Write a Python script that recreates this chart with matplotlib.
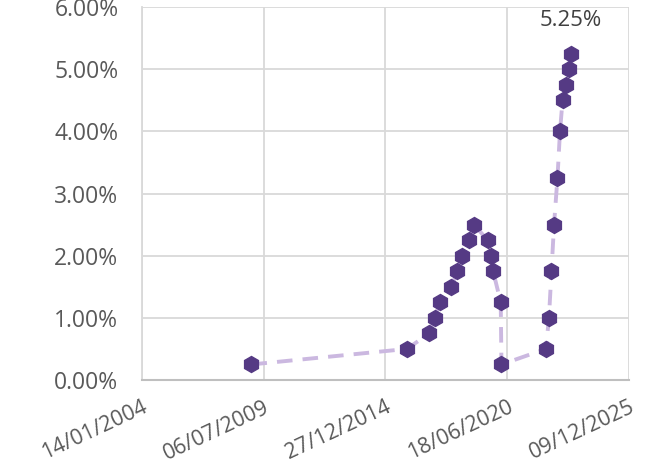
# Fed funds target rate (upper bound) - decision dates
import numpy as np
import matplotlib
matplotlib.use('Agg')
import matplotlib.pyplot as plt
import matplotlib.dates as mdates
import pandas as pd

# data
dates = ['2008-12-16', '2015-12-16', '2016-12-14', '2017-03-15', '2017-06-14',
         '2017-12-13', '2018-03-21', '2018-06-13', '2018-09-26', '2018-12-19',
         '2019-07-31', '2019-09-18', '2019-10-30', '2020-03-03', '2020-03-15',
         '2022-03-16', '2022-05-04', '2022-06-15', '2022-07-27', '2022-09-21',
         '2022-11-02', '2022-12-14', '2023-02-01', '2023-03-22', '2023-05-03']
rates = [0.25, 0.50, 0.75, 1.00, 1.25,
         1.50, 1.75, 2.00, 2.25, 2.50,
         2.25, 2.00, 1.75, 1.25, 0.25,
         0.50, 1.00, 1.75, 2.50, 3.25,
         4.00, 4.50, 4.75, 5.00, 5.25]
x_start = '2004-01-14'
tick_step_days = 2000
n_ticks = 5

x = pd.to_datetime(dates)
y = np.array(rates) / 100

plt.rcParams['font.family'] = ['Open Sans', 'DejaVu Sans']

fig = plt.figure(figsize=(6.56, 4.67), dpi=100)
ax = fig.add_axes([0.2165, 0.1863, 0.7423, 0.7987])

ax.plot(x, y, color='#CBB8E0', linewidth=2.8, dashes=(4, 2.6), zorder=2)
ax.plot(x, y, linestyle='none', marker='h', markersize=11.5,
        color='#553A84', zorder=3)

# label on the last point
ax.annotate('{:.2%}'.format(y[-1]), (x[-1], y[-1]), xytext=(0, 16),
            textcoords='offset points', ha='center', va='bottom',
            fontsize=16, color='#404040')

# axes
t0 = pd.Timestamp(x_start)
ticks = [t0 + pd.Timedelta(days=tick_step_days * i) for i in range(n_ticks)]
ax.set_xlim(ticks[0], ticks[-1])
ax.set_xticks(ticks)
ax.xaxis.set_major_formatter(mdates.DateFormatter('%d/%m/%Y'))
ax.set_ylim(0, 0.06)
ax.set_yticks(np.arange(0, 0.0601, 0.01))
ax.yaxis.set_major_formatter(matplotlib.ticker.FuncFormatter(lambda v, p: '{:.2%}'.format(v)))

ax.tick_params(axis='both', length=0, labelcolor='#595959')
ax.tick_params(axis='y', pad=17, labelsize=16.5)
ax.tick_params(axis='x', pad=12, labelsize=15.5)

for lbl in ax.get_xticklabels():
    lbl.set_rotation(25)
    lbl.set_ha('right')
    lbl.set_rotation_mode('anchor')

ax.grid(True, color='#D9D9D9', linewidth=1.3)
ax.set_axisbelow(True)
for s in ['top', 'right']:
    ax.spines[s].set_visible(False)
ax.spines['left'].set_color('#D9D9D9')
ax.spines['left'].set_linewidth(1.3)
ax.spines['bottom'].set_color('#BFBFBF')
ax.spines['bottom'].set_linewidth(1.5)

fig.savefig('out.png', dpi=100)
